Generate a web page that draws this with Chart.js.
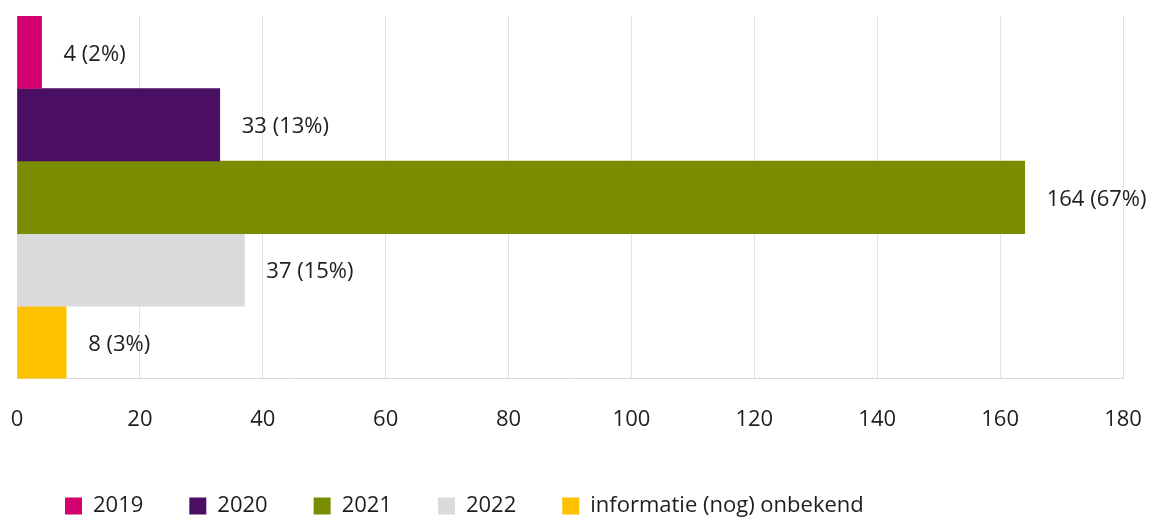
<!DOCTYPE html>
<html>
<head>
<meta charset="utf-8">
<script src="https://cdn.jsdelivr.net/npm/chart.js@4.4.1/dist/chart.umd.min.js"></script>
<style>
  html, body { margin: 0; padding: 0; background: #ffffff; }
  #wrap { width: 1154px; height: 518px; position: relative; }
</style>
</head>
<body>
<div id="wrap"><canvas id="c"></canvas></div>
<script>
// ---- data ----
const categories = [""];
const seriesNames = ["2019", "2020", "2021", "2022", "informatie (nog) onbekend"];
const seriesValues = [4, 33, 164, 37, 8];
const seriesPercents = [2, 13, 67, 15, 3];
const seriesColors = ["#d4006f", "#4a0e62", "#7a8c00", "#dadada", "#fec100"];
const xTicks = [0, 20, 40, 60, 80, 100, 120, 140, 160, 180];

const FONT = "'Open Sans', Lato, sans-serif";

const datasets = seriesNames.map((name, i) => ({
  label: name,
  data: [seriesValues[i]],
  backgroundColor: seriesColors[i],
  borderWidth: 0,
  barPercentage: 1.0,
  categoryPercentage: 1.0
}));

const valueLabels = {
  id: 'valueLabels',
  afterDatasetsDraw(chart) {
    const ctx = chart.ctx;
    ctx.save();
    ctx.font = "22px " + FONT;
    ctx.fillStyle = "#1e1e1e";
    ctx.textAlign = "left";
    ctx.textBaseline = "middle";
    chart.data.datasets.forEach((ds, i) => {
      const meta = chart.getDatasetMeta(i);
      meta.data.forEach((el) => {
        const txt = seriesValues[i] + " (" + seriesPercents[i] + "%)";
        ctx.fillText(txt, el.x + 22, el.y + 2);
      });
    });
    ctx.restore();
  }
};

const legendShift = {
  id: 'legendShift',
  afterLayout(chart) {
    if (chart.legend) {
      chart.legend.left += 2;
      chart.legend.top += 9;
    }
  }
};

new Chart(document.getElementById('c'), {
  type: 'bar',
  data: { labels: categories, datasets },
  options: {
    indexAxis: 'y',
    responsive: true,
    maintainAspectRatio: false,
    animation: false,
    layout: { padding: { left: 17, right: 31, top: 16, bottom: 0 } },
    scales: {
      x: {
        min: 0,
        max: 180,
        afterBuildTicks(scale) { scale.ticks = xTicks.map(v => ({ value: v })); },
        afterFit(scale) {
          scale.height -= 21;
          scale.paddingLeft = 6;
          scale.paddingRight = 19;
        },
        grid: { color: "#e3e3e3", lineWidth: 1, drawTicks: false },
        border: { display: true, color: "#d9d9d9", width: 1 },
        ticks: { font: { family: FONT, size: 22 }, color: "#1e1e1e", padding: 28, maxRotation: 0 }
      },
      y: {
        display: false,
        grid: { display: false }
      }
    },
    plugins: {
      legend: {
        position: 'bottom',
        align: 'start',
        labels: {
          boxWidth: 17,
          boxHeight: 17,
          padding: 46,
          color: "#1e1e1e",
          font: { family: FONT, size: 22 }
        }
      },
      tooltip: { enabled: false }
    }
  },
  plugins: [valueLabels, legendShift]
});
</script>
</body>
</html>
